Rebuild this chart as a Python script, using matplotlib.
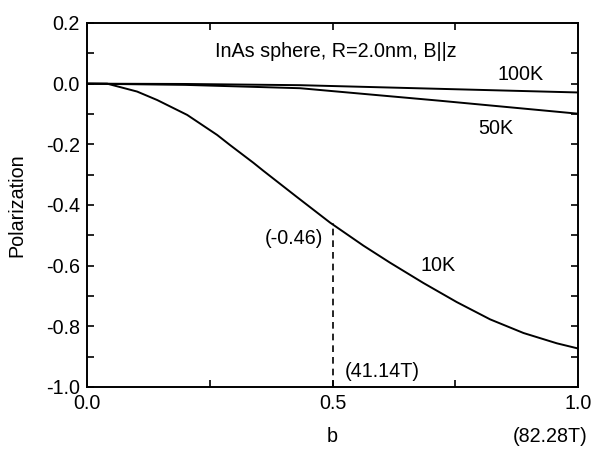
import numpy as np
import matplotlib
matplotlib.use("Agg")
import matplotlib.pyplot as plt
from matplotlib import ticker

plt.rcParams['font.family'] = ['Liberation Sans', 'DejaVu Sans']

# values
b_10K = [0.0, 0.041, 0.102, 0.143, 0.204, 0.265, 0.291, 0.339, 0.359, 0.427, 0.495,
         0.563, 0.617, 0.685, 0.753, 0.821, 0.889, 0.957, 1.0]
p_10K = [0.0, 0.0, -0.026, -0.054, -0.103, -0.169, -0.202, -0.261, -0.287, -0.373, -0.458,
         -0.534, -0.590, -0.657, -0.720, -0.777, -0.822, -0.856, -0.873]

b_50K = [0.0, 0.2, 0.434, 0.717, 1.0]
p_50K = [0.0, -0.004, -0.015, -0.056, -0.099]

b_100K = [0.0, 0.2, 0.434, 0.717, 1.0]
p_100K = [0.0, -0.001, -0.005, -0.017, -0.029]

b_mark = 0.5
p_mark = -0.46

fs = 14.2

fig = plt.figure(figsize=(5.92, 4.5), dpi=100)
ax = fig.add_axes([87/592, 1-387/450, (578-87)/592, (387-23)/450])

ax.plot(b_10K, p_10K, color='black', lw=1.4)
ax.plot(b_50K, p_50K, color='black', lw=1.4)
ax.plot(b_100K, p_100K, color='black', lw=1.4)
ax.plot([b_mark, b_mark], [-1.0, p_mark], color='black', lw=1.2, ls=(0, (4, 3)))

ax.set_xlim(0, 1.0)
ax.set_ylim(-1.0, 0.2)
ax.xaxis.set_major_locator(ticker.MultipleLocator(0.5))
ax.xaxis.set_minor_locator(ticker.MultipleLocator(0.25))
ax.yaxis.set_major_locator(ticker.MultipleLocator(0.2))
ax.yaxis.set_minor_locator(ticker.MultipleLocator(0.1))
ax.xaxis.set_major_formatter(ticker.FormatStrFormatter('%.1f'))
ax.yaxis.set_major_formatter(ticker.FormatStrFormatter('%.1f'))
ax.tick_params(which='both', direction='in', top=True, right=True, width=1.2, labelsize=fs)
ax.tick_params(which='major', length=5, pad=5)
ax.tick_params(which='minor', length=5)
for s in ax.spines.values():
    s.set_linewidth(1.4)

ax.set_ylabel('Polarization', fontsize=fs)
ax.yaxis.set_label_coords(-(87-26)/491, 0.5)

ax.text(0.26, 0.105, 'InAs sphere, R=2.0nm, B||z', fontsize=fs, ha='left', va='center')
ax.text(0.884, 0.03, '100K', fontsize=fs, ha='center', va='center')
ax.text(0.832, -0.148, '50K', fontsize=fs, ha='center', va='center')
ax.text(0.716, -0.6, '10K', fontsize=fs, ha='center', va='center')
ax.text(0.48, -0.51, '(-0.46)', fontsize=fs, ha='right', va='center')
ax.text(0.525, -0.948, '(41.14T)', fontsize=fs, ha='left', va='center')

fig.text(332/592, 1-436/450, 'b', fontsize=fs, ha='center', va='center')
fig.text(550/592, 1-436/450, '(82.28T)', fontsize=fs, ha='center', va='center')

fig.savefig('out.png', dpi=100)
